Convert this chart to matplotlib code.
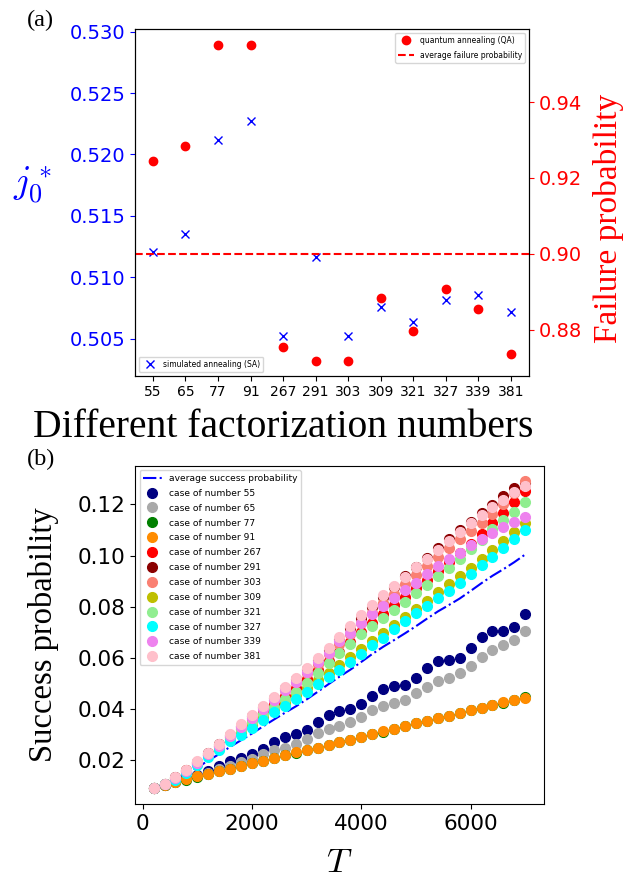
import numpy as np
import matplotlib
matplotlib.use("Agg")
import matplotlib.pyplot as plt

plt.rcParams['mathtext.fontset'] = 'cm'
serif = 'Liberation Serif'

# panel (a)
numbers = ['55', '65', '77', '91', '267', '291', '303', '309', '321', '327', '339', '381']
sa_j0 = [0.5121, 0.5135, 0.5212, 0.5227, 0.5052, 0.5117, 0.5052, 0.5076, 0.5064, 0.5082, 0.5086, 0.5072]
qa_fail = [0.9244, 0.9284, 0.9552, 0.9550, 0.8754, 0.8718, 0.8718, 0.8882, 0.8797, 0.8908, 0.8853, 0.8735]

# panel (b)
T = [200 * k for k in range(1, 36)]
p55 = [0.0092, 0.0105, 0.0118, 0.0130, 0.0143, 0.0157, 0.0177, 0.0197, 0.0209, 0.0223, 0.0246, 0.0272,
       0.0291, 0.0303, 0.0320, 0.0349, 0.0379, 0.0393, 0.0400, 0.0419, 0.0453, 0.0479, 0.0490, 0.0496,
       0.0520, 0.0560, 0.0587, 0.0591, 0.0600, 0.0637, 0.0681, 0.0704, 0.0705, 0.0722, 0.0770]
p65 = [0.0092, 0.0104, 0.0116, 0.0128, 0.0140, 0.0152, 0.0165, 0.0178, 0.0192, 0.0205, 0.0223, 0.0239,
       0.0250, 0.0263, 0.0282, 0.0306, 0.0324, 0.0336, 0.0349, 0.0370, 0.0395, 0.0414, 0.0423, 0.0436,
       0.0462, 0.0487, 0.0509, 0.0522, 0.0542, 0.0568, 0.0604, 0.0631, 0.0650, 0.0670, 0.0705]
p77 = [0.0092, 0.0103, 0.0115, 0.0125, 0.0136, 0.0147, 0.0158, 0.0168, 0.0178, 0.0189, 0.0199, 0.0209,
       0.0220, 0.0230, 0.0240, 0.0250, 0.0260, 0.0270, 0.0281, 0.0291, 0.0302, 0.0312, 0.0323, 0.0333,
       0.0344, 0.0354, 0.0364, 0.0375, 0.0385, 0.0395, 0.0405, 0.0415, 0.0425, 0.0435, 0.0446]
p91 = [0.0092, 0.0104, 0.0114, 0.0126, 0.0137, 0.0148, 0.0158, 0.0168, 0.0179, 0.0189, 0.0199, 0.0210,
       0.0220, 0.0231, 0.0241, 0.0250, 0.0261, 0.0271, 0.0281, 0.0292, 0.0302, 0.0313, 0.0323, 0.0334,
       0.0344, 0.0355, 0.0365, 0.0375, 0.0386, 0.0396, 0.0405, 0.0415, 0.0426, 0.0436, 0.0445]
p267 = [0.0092, 0.0108, 0.0131, 0.0159, 0.0190, 0.0222, 0.0256, 0.0290, 0.0324, 0.0357, 0.0389, 0.0421,
        0.0452, 0.0483, 0.0517, 0.0552, 0.0588, 0.0625, 0.0662, 0.0700, 0.0737, 0.0771, 0.0805, 0.0840,
        0.0872, 0.0905, 0.0940, 0.0975, 0.1009, 0.1044, 0.1083, 0.1126, 0.1168, 0.1210, 0.1254]
p291 = [0.0092, 0.0109, 0.0134, 0.0163, 0.0194, 0.0227, 0.0262, 0.0299, 0.0336, 0.0372, 0.0408, 0.0443,
        0.0481, 0.0517, 0.0555, 0.0593, 0.0633, 0.0675, 0.0716, 0.0758, 0.0800, 0.0840, 0.0878, 0.0920,
        0.0956, 0.0991, 0.1028, 0.1063, 0.1098, 0.1133, 0.1167, 0.1199, 0.1231, 0.1263, 0.1282]
p303 = [0.0092, 0.0108, 0.0133, 0.0161, 0.0192, 0.0225, 0.0260, 0.0295, 0.0332, 0.0367, 0.0403, 0.0437,
        0.0473, 0.0507, 0.0542, 0.0578, 0.0617, 0.0656, 0.0695, 0.0736, 0.0775, 0.0813, 0.0851, 0.0888,
        0.0924, 0.0960, 0.0995, 0.1030, 0.1063, 0.1095, 0.1128, 0.1162, 0.1200, 0.1245, 0.1292]
p309 = [0.0092, 0.0107, 0.0126, 0.0153, 0.0184, 0.0219, 0.0246, 0.0282, 0.0306, 0.0338, 0.0368, 0.0398,
        0.0425, 0.0455, 0.0484, 0.0514, 0.0543, 0.0573, 0.0603, 0.0636, 0.0667, 0.0698, 0.0728, 0.0761,
        0.0792, 0.0824, 0.0856, 0.0889, 0.0920, 0.0953, 0.0987, 0.1022, 0.1057, 0.1092, 0.1126]
p321 = [0.0092, 0.0107, 0.0130, 0.0157, 0.0187, 0.0220, 0.0252, 0.0285, 0.0318, 0.0350, 0.0380, 0.0409,
        0.0440, 0.0467, 0.0503, 0.0540, 0.0580, 0.0620, 0.0655, 0.0693, 0.0725, 0.0755, 0.0787, 0.0820,
        0.0852, 0.0885, 0.0921, 0.0953, 0.0987, 0.1025, 0.1061, 0.1104, 0.1137, 0.1172, 0.1210]
p327 = [0.0092, 0.0106, 0.0124, 0.0150, 0.0180, 0.0214, 0.0240, 0.0275, 0.0298, 0.0328, 0.0358, 0.0387,
        0.0413, 0.0441, 0.0468, 0.0497, 0.0526, 0.0552, 0.0584, 0.0616, 0.0650, 0.0679, 0.0712, 0.0744,
        0.0774, 0.0803, 0.0833, 0.0861, 0.0893, 0.0927, 0.0962, 0.0995, 0.1031, 0.1065, 0.1100]
p339 = [0.0092, 0.0108, 0.0132, 0.0160, 0.0191, 0.0223, 0.0258, 0.0294, 0.0331, 0.0365, 0.0401, 0.0436,
        0.0473, 0.0508, 0.0545, 0.0583, 0.0620, 0.0666, 0.0698, 0.0735, 0.0770, 0.0803, 0.0835, 0.0865,
        0.0894, 0.0927, 0.0959, 0.0985, 0.1011, 0.1041, 0.1065, 0.1090, 0.1113, 0.1133, 0.1150]
p381 = [0.0092, 0.0109, 0.0135, 0.0164, 0.0196, 0.0229, 0.0265, 0.0302, 0.0341, 0.0376, 0.0413, 0.0449,
        0.0487, 0.0522, 0.0559, 0.0598, 0.0640, 0.0683, 0.0726, 0.0768, 0.0808, 0.0846, 0.0881, 0.0918,
        0.0954, 0.0987, 0.1022, 0.1057, 0.1091, 0.1126, 0.1159, 0.1189, 0.1218, 0.1248, 0.1272]

cases = [p55, p65, p77, p91, p267, p291, p303, p309, p321, p327, p339, p381]
colors = ['navy', 'darkgray', 'green', 'darkorange', 'red', 'darkred', 'salmon',
          'y', 'lightgreen', 'cyan', 'violet', 'pink']

fig = plt.figure(figsize=(6.28, 8.82), dpi=100)

# ---- (a)
ax = fig.add_axes([0.215, 0.574, 0.627, 0.393])
ax2 = ax.twinx()
xpos = np.arange(len(numbers))
ax.plot(xpos, sa_j0, 'x', color='blue', markersize=6, label='simulated annealing (SA)')
ax2.plot(xpos, qa_fail, 'o', color='red', markersize=6, label='quantum annealing (QA)')
ax2.axhline(np.mean(qa_fail), color='red', linestyle='--', linewidth=1.5, label='average failure probability')
ax.set_xticks(xpos)
ax.set_xticklabels(numbers, fontsize=10)
ax.set_ylim(0.5020, 0.5302)
ax2.set_ylim(0.8678, 0.9593)
ax.set_yticks([0.505, 0.510, 0.515, 0.520, 0.525, 0.530])
ax2.set_yticks([0.88, 0.90, 0.92, 0.94])
ax.tick_params(axis='y', colors='blue', labelsize=14)
ax2.tick_params(axis='y', colors='red', labelsize=14)
ax2.set_ylabel('Failure probability', color='red', fontsize=24, family=serif)
ax2.yaxis.set_label_coords(1.162, 0.455)
ax.legend(loc='lower left', fontsize=5.5, labelspacing=0.74)
ax2.legend(loc='upper right', fontsize=5.5, labelspacing=0.74)
fig.text(0.051, 0.790, r'$j_0^*$', color='blue', fontsize=27, ha='center', va='center')
fig.text(0.451, 0.515, 'Different factorization numbers', fontsize=28.5, family=serif,
         ha='center', va='center')
fig.text(0.043, 0.989, '(a)', fontsize=17.5, family=serif, va='top')

# ---- (b)
bx = fig.add_axes([0.215, 0.088, 0.651, 0.384])
bx.plot(T, np.mean(cases, axis=0), '-.', color='blue', linewidth=1.5, label='average success probability')
for vals, num, c in zip(cases, numbers, colors):
    bx.plot(T, vals, 'o', color=c, markersize=7, label='case of number ' + num)
bx.set_ylim(0.0028, 0.1351)
bx.set_xticks([0, 2000, 4000, 6000])
bx.tick_params(labelsize=15.5)
bx.set_ylabel('Success probability', fontsize=23.5, family=serif)
bx.yaxis.set_label_coords(-0.185, 0.5)
bx.set_xlabel(r'$T$', fontsize=25, labelpad=8)
bx.legend(loc='upper left', fontsize=6.6, labelspacing=0.64)
fig.text(0.043, 0.491, '(b)', fontsize=17.5, family=serif, va='top')

fig.savefig('out.png', dpi=100)
